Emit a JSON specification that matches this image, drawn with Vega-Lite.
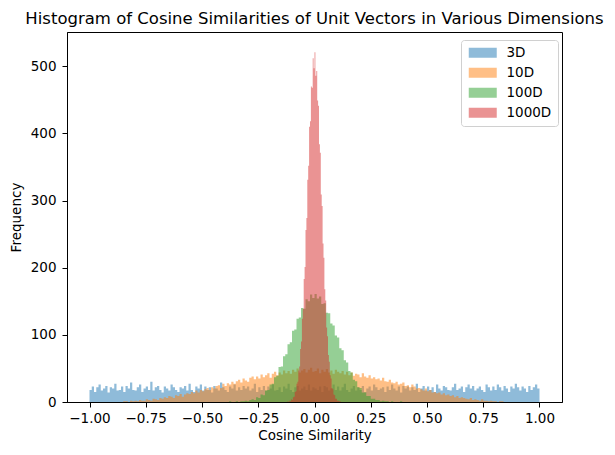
{
  "$schema": "https://vega.github.io/schema/vega-lite/v6.json",
  "width": 495,
  "height": 370,
  "autosize": {"type": "none"},
  "padding": {"left": 67, "top": 32, "right": 53, "bottom": 53},
  "title": {
    "text": "Histogram of Cosine Similarities of Unit Vectors in Various Dimensions",
    "font": "DejaVu Sans",
    "fontSize": 16.5,
    "fontWeight": "normal",
    "color": "black",
    "baseline": "bottom",
    "offset": -11
  },
  "encoding": {
    "x": {
      "field": "x",
      "type": "quantitative",
      "scale": {"domain": [-1.1, 1.1], "nice": false, "zero": false},
      "axis": {
        "title": "Cosine Similarity",
        "values": [-1, -0.75, -0.5, -0.25, 0, 0.25, 0.5, 0.75, 1],
        "format": ".2f",
        "labelPadding": 4,
        "titlePadding": 4
      }
    },
    "y": {
      "field": "y",
      "type": "quantitative",
      "scale": {"domain": [0, 551], "nice": false},
      "axis": {
        "title": "Frequency",
        "values": [0, 100, 200, 300, 400, 500],
        "labelPadding": 6,
        "titlePadding": 7
      }
    }
  },
  "layer": [
    {
      "data": {"values": [
        {"x":-1.00,"y":18},{"x":-0.99,"y":23},{"x":-0.98,"y":15},{"x":-0.97,"y":22},{"x":-0.96,"y":26},{"x":-0.95,"y":17},{"x":-0.94,"y":20},{"x":-0.93,"y":24},{"x":-0.92,"y":14},{"x":-0.91,"y":22},
        {"x":-0.90,"y":20},{"x":-0.89,"y":27},{"x":-0.88,"y":17},{"x":-0.87,"y":18},{"x":-0.86,"y":23},{"x":-0.85,"y":15},{"x":-0.84,"y":24},{"x":-0.83,"y":20},{"x":-0.82,"y":29},{"x":-0.81,"y":18},
        {"x":-0.80,"y":17},{"x":-0.79,"y":22},{"x":-0.78,"y":26},{"x":-0.77,"y":15},{"x":-0.76,"y":20},{"x":-0.75,"y":23},{"x":-0.74,"y":18},{"x":-0.73,"y":30},{"x":-0.72,"y":17},{"x":-0.71,"y":22},
        {"x":-0.70,"y":24},{"x":-0.69,"y":18},{"x":-0.68,"y":14},{"x":-0.67,"y":23},{"x":-0.66,"y":20},{"x":-0.65,"y":17},{"x":-0.64,"y":26},{"x":-0.63,"y":22},{"x":-0.62,"y":18},{"x":-0.61,"y":15},
        {"x":-0.60,"y":22},{"x":-0.59,"y":20},{"x":-0.58,"y":24},{"x":-0.57,"y":17},{"x":-0.56,"y":27},{"x":-0.55,"y":18},{"x":-0.54,"y":15},{"x":-0.53,"y":23},{"x":-0.52,"y":20},{"x":-0.51,"y":26},
        {"x":-0.50,"y":17},{"x":-0.49,"y":23},{"x":-0.48,"y":18},{"x":-0.47,"y":22},{"x":-0.46,"y":14},{"x":-0.45,"y":24},{"x":-0.44,"y":20},{"x":-0.43,"y":17},{"x":-0.42,"y":29},{"x":-0.41,"y":22},
        {"x":-0.40,"y":18},{"x":-0.39,"y":15},{"x":-0.38,"y":23},{"x":-0.37,"y":20},{"x":-0.36,"y":26},{"x":-0.35,"y":17},{"x":-0.34,"y":22},{"x":-0.33,"y":18},{"x":-0.32,"y":24},{"x":-0.31,"y":20},
        {"x":-0.30,"y":23},{"x":-0.29,"y":17},{"x":-0.28,"y":20},{"x":-0.27,"y":27},{"x":-0.26,"y":15},{"x":-0.25,"y":22},{"x":-0.24,"y":18},{"x":-0.23,"y":24},{"x":-0.22,"y":17},{"x":-0.21,"y":23},
        {"x":-0.20,"y":20},{"x":-0.19,"y":26},{"x":-0.18,"y":17},{"x":-0.17,"y":18},{"x":-0.16,"y":22},{"x":-0.15,"y":15},{"x":-0.14,"y":23},{"x":-0.13,"y":20},{"x":-0.12,"y":27},{"x":-0.11,"y":18},
        {"x":-0.10,"y":15},{"x":-0.09,"y":22},{"x":-0.08,"y":24},{"x":-0.07,"y":17},{"x":-0.06,"y":20},{"x":-0.05,"y":23},{"x":-0.04,"y":18},{"x":-0.03,"y":26},{"x":-0.02,"y":17},{"x":-0.01,"y":22},
        {"x":0.00,"y":20},{"x":0.01,"y":18},{"x":0.02,"y":23},{"x":0.03,"y":15},{"x":0.04,"y":24},{"x":0.05,"y":22},{"x":0.06,"y":17},{"x":0.07,"y":20},{"x":0.08,"y":26},{"x":0.09,"y":18},
        {"x":0.10,"y":23},{"x":0.11,"y":17},{"x":0.12,"y":22},{"x":0.13,"y":27},{"x":0.14,"y":18},{"x":0.15,"y":15},{"x":0.16,"y":20},{"x":0.17,"y":24},{"x":0.18,"y":17},{"x":0.19,"y":22},
        {"x":0.20,"y":18},{"x":0.21,"y":24},{"x":0.22,"y":15},{"x":0.23,"y":20},{"x":0.24,"y":23},{"x":0.25,"y":17},{"x":0.26,"y":26},{"x":0.27,"y":22},{"x":0.28,"y":18},{"x":0.29,"y":20},
        {"x":0.30,"y":22},{"x":0.31,"y":15},{"x":0.32,"y":23},{"x":0.33,"y":18},{"x":0.34,"y":26},{"x":0.35,"y":20},{"x":0.36,"y":17},{"x":0.37,"y":23},{"x":0.38,"y":14},{"x":0.39,"y":24},
        {"x":0.40,"y":20},{"x":0.41,"y":23},{"x":0.42,"y":17},{"x":0.43,"y":22},{"x":0.44,"y":18},{"x":0.45,"y":27},{"x":0.46,"y":15},{"x":0.47,"y":20},{"x":0.48,"y":24},{"x":0.49,"y":17},
        {"x":0.50,"y":23},{"x":0.51,"y":18},{"x":0.52,"y":22},{"x":0.53,"y":15},{"x":0.54,"y":26},{"x":0.55,"y":20},{"x":0.56,"y":17},{"x":0.57,"y":24},{"x":0.58,"y":22},{"x":0.59,"y":18},
        {"x":0.60,"y":17},{"x":0.61,"y":22},{"x":0.62,"y":27},{"x":0.63,"y":18},{"x":0.64,"y":20},{"x":0.65,"y":23},{"x":0.66,"y":15},{"x":0.67,"y":22},{"x":0.68,"y":26},{"x":0.69,"y":20},
        {"x":0.70,"y":24},{"x":0.71,"y":17},{"x":0.72,"y":20},{"x":0.73,"y":23},{"x":0.74,"y":18},{"x":0.75,"y":15},{"x":0.76,"y":26},{"x":0.77,"y":22},{"x":0.78,"y":17},{"x":0.79,"y":23},
        {"x":0.80,"y":18},{"x":0.81,"y":26},{"x":0.82,"y":22},{"x":0.83,"y":17},{"x":0.84,"y":24},{"x":0.85,"y":20},{"x":0.86,"y":15},{"x":0.87,"y":23},{"x":0.88,"y":20},{"x":0.89,"y":27},
        {"x":0.90,"y":22},{"x":0.91,"y":17},{"x":0.92,"y":23},{"x":0.93,"y":20},{"x":0.94,"y":15},{"x":0.95,"y":24},{"x":0.96,"y":18},{"x":0.97,"y":22},{"x":0.98,"y":26},{"x":0.99,"y":20},
        {"x":1.00,"y":0}
      ]},
      "mark": {"type": "area", "interpolate": "step-after", "opacity": 0.5},
      "encoding": {"color": {"datum": "3D"}}
    },
    {
      "data": {"values": [
        {"x":-0.86,"y":0},{"x":-0.85,"y":1},{"x":-0.84,"y":1},{"x":-0.83,"y":0},{"x":-0.82,"y":2},{"x":-0.81,"y":1},{"x":-0.80,"y":2},{"x":-0.79,"y":1},{"x":-0.78,"y":3},{"x":-0.77,"y":2},
        {"x":-0.76,"y":2},{"x":-0.75,"y":4},{"x":-0.74,"y":3},{"x":-0.73,"y":2},{"x":-0.72,"y":5},{"x":-0.71,"y":4},{"x":-0.70,"y":3},{"x":-0.69,"y":6},{"x":-0.68,"y":5},{"x":-0.67,"y":7},
        {"x":-0.66,"y":6},{"x":-0.65,"y":9},{"x":-0.64,"y":8},{"x":-0.63,"y":6},{"x":-0.62,"y":10},{"x":-0.61,"y":9},{"x":-0.60,"y":12},{"x":-0.59,"y":8},{"x":-0.58,"y":11},{"x":-0.57,"y":13},
        {"x":-0.56,"y":12},{"x":-0.55,"y":15},{"x":-0.54,"y":13},{"x":-0.53,"y":17},{"x":-0.52,"y":14},{"x":-0.51,"y":18},{"x":-0.50,"y":16},{"x":-0.49,"y":19},{"x":-0.48,"y":21},{"x":-0.47,"y":18},
        {"x":-0.46,"y":22},{"x":-0.45,"y":20},{"x":-0.44,"y":24},{"x":-0.43,"y":25},{"x":-0.42,"y":21},{"x":-0.41,"y":27},{"x":-0.40,"y":24},{"x":-0.39,"y":28},{"x":-0.38,"y":26},{"x":-0.37,"y":30},
        {"x":-0.36,"y":27},{"x":-0.35,"y":31},{"x":-0.34,"y":33},{"x":-0.33,"y":29},{"x":-0.32,"y":35},{"x":-0.31,"y":32},{"x":-0.30,"y":30},{"x":-0.29,"y":36},{"x":-0.28,"y":38},{"x":-0.27,"y":34},
        {"x":-0.26,"y":38},{"x":-0.25,"y":35},{"x":-0.24,"y":41},{"x":-0.23,"y":37},{"x":-0.22,"y":40},{"x":-0.21,"y":43},{"x":-0.20,"y":36},{"x":-0.19,"y":42},{"x":-0.18,"y":45},{"x":-0.17,"y":40},
        {"x":-0.16,"y":44},{"x":-0.15,"y":41},{"x":-0.14,"y":47},{"x":-0.13,"y":43},{"x":-0.12,"y":46},{"x":-0.11,"y":42},{"x":-0.10,"y":48},{"x":-0.09,"y":45},{"x":-0.08,"y":50},{"x":-0.07,"y":44},
        {"x":-0.06,"y":47},{"x":-0.05,"y":49},{"x":-0.04,"y":44},{"x":-0.03,"y":48},{"x":-0.02,"y":51},{"x":-0.01,"y":45},
        {"x":0.00,"y":46},{"x":0.01,"y":50},{"x":0.02,"y":43},{"x":0.03,"y":48},{"x":0.04,"y":45},{"x":0.05,"y":49},
        {"x":0.06,"y":44},{"x":0.07,"y":47},{"x":0.08,"y":42},{"x":0.09,"y":48},{"x":0.10,"y":45},{"x":0.11,"y":43},{"x":0.12,"y":46},{"x":0.13,"y":41},{"x":0.14,"y":45},{"x":0.15,"y":40},
        {"x":0.16,"y":44},{"x":0.17,"y":39},{"x":0.18,"y":42},{"x":0.19,"y":41},{"x":0.20,"y":37},{"x":0.21,"y":43},{"x":0.22,"y":38},{"x":0.23,"y":36},{"x":0.24,"y":40},{"x":0.25,"y":35},
        {"x":0.26,"y":37},{"x":0.27,"y":34},{"x":0.28,"y":35},{"x":0.29,"y":32},{"x":0.30,"y":36},{"x":0.31,"y":31},{"x":0.32,"y":30},{"x":0.33,"y":33},{"x":0.34,"y":29},{"x":0.35,"y":28},
        {"x":0.36,"y":30},{"x":0.37,"y":26},{"x":0.38,"y":27},{"x":0.39,"y":29},{"x":0.40,"y":24},{"x":0.41,"y":25},{"x":0.42,"y":22},{"x":0.43,"y":26},{"x":0.44,"y":23},{"x":0.45,"y":20},
        {"x":0.46,"y":21},{"x":0.47,"y":19},{"x":0.48,"y":17},{"x":0.49,"y":20},{"x":0.50,"y":16},{"x":0.51,"y":18},{"x":0.52,"y":14},{"x":0.53,"y":15},{"x":0.54,"y":13},{"x":0.55,"y":14},
        {"x":0.56,"y":11},{"x":0.57,"y":13},{"x":0.58,"y":10},{"x":0.59,"y":11},{"x":0.60,"y":9},{"x":0.61,"y":10},{"x":0.62,"y":7},{"x":0.63,"y":9},{"x":0.64,"y":6},{"x":0.65,"y":7},
        {"x":0.66,"y":6},{"x":0.67,"y":5},{"x":0.68,"y":4},{"x":0.69,"y":6},{"x":0.70,"y":3},{"x":0.71,"y":4},{"x":0.72,"y":3},{"x":0.73,"y":2},{"x":0.74,"y":4},{"x":0.75,"y":2},
        {"x":0.76,"y":2},{"x":0.77,"y":1},{"x":0.78,"y":2},{"x":0.79,"y":1},{"x":0.80,"y":1},{"x":0.81,"y":0},{"x":0.82,"y":1},{"x":0.83,"y":1},{"x":0.84,"y":0},{"x":0.85,"y":0},
        {"x":0.86,"y":0}
      ]},
      "mark": {"type": "area", "interpolate": "step-after", "opacity": 0.5},
      "encoding": {"color": {"datum": "10D"}}
    },
    {
      "data": {"values": [
        {"x":-0.40,"y":0},{"x":-0.39,"y":0},{"x":-0.38,"y":1},{"x":-0.37,"y":0},{"x":-0.36,"y":0},{"x":-0.35,"y":1},{"x":-0.34,"y":0},{"x":-0.33,"y":1},{"x":-0.32,"y":1},{"x":-0.31,"y":2},
        {"x":-0.30,"y":1},{"x":-0.29,"y":3},{"x":-0.28,"y":4},{"x":-0.27,"y":3},{"x":-0.26,"y":7},{"x":-0.25,"y":6},{"x":-0.24,"y":11},{"x":-0.23,"y":10},{"x":-0.22,"y":17},{"x":-0.21,"y":18},
        {"x":-0.20,"y":26},{"x":-0.19,"y":27},{"x":-0.18,"y":37},{"x":-0.17,"y":39},{"x":-0.16,"y":52},{"x":-0.15,"y":53},{"x":-0.14,"y":68},{"x":-0.13,"y":71},{"x":-0.12,"y":86},{"x":-0.11,"y":89},
        {"x":-0.10,"y":106},{"x":-0.09,"y":108},{"x":-0.08,"y":124},{"x":-0.07,"y":126},{"x":-0.06,"y":140},{"x":-0.05,"y":139},{"x":-0.04,"y":153},{"x":-0.03,"y":150},{"x":-0.02,"y":160},{"x":-0.01,"y":155},
        {"x":0.00,"y":161},{"x":0.01,"y":154},{"x":0.02,"y":157},{"x":0.03,"y":146},{"x":0.04,"y":147},{"x":0.05,"y":133},{"x":0.06,"y":132},{"x":0.07,"y":117},{"x":0.08,"y":114},{"x":0.09,"y":99},
        {"x":0.10,"y":96},{"x":0.11,"y":80},{"x":0.12,"y":77},{"x":0.13,"y":62},{"x":0.14,"y":59},{"x":0.15,"y":46},{"x":0.16,"y":44},{"x":0.17,"y":33},{"x":0.18,"y":31},{"x":0.19,"y":22},
        {"x":0.20,"y":21},{"x":0.21,"y":14},{"x":0.22,"y":14},{"x":0.23,"y":9},{"x":0.24,"y":9},{"x":0.25,"y":5},{"x":0.26,"y":5},{"x":0.27,"y":3},{"x":0.28,"y":3},{"x":0.29,"y":1},
        {"x":0.30,"y":2},{"x":0.31,"y":1},{"x":0.32,"y":1},{"x":0.33,"y":0},{"x":0.34,"y":1},{"x":0.35,"y":0},{"x":0.36,"y":0},{"x":0.37,"y":0},{"x":0.38,"y":1},{"x":0.39,"y":0},
        {"x":0.40,"y":0}
      ]},
      "mark": {"type": "area", "interpolate": "step-after", "opacity": 0.5},
      "encoding": {"color": {"datum": "100D"}}
    },
    {
      "data": {"values": [
        {"x":-0.124,"y":0},{"x":-0.120,"y":1},{"x":-0.116,"y":0},{"x":-0.112,"y":2},{"x":-0.108,"y":1},{"x":-0.104,"y":4},{"x":-0.100,"y":3},{"x":-0.096,"y":7},{"x":-0.092,"y":8},{"x":-0.088,"y":15},
        {"x":-0.084,"y":16},{"x":-0.080,"y":27},{"x":-0.076,"y":30},{"x":-0.072,"y":47},{"x":-0.068,"y":53},{"x":-0.064,"y":79},{"x":-0.060,"y":90},{"x":-0.056,"y":124},{"x":-0.052,"y":139},{"x":-0.048,"y":183},
        {"x":-0.044,"y":201},{"x":-0.040,"y":256},{"x":-0.036,"y":274},{"x":-0.032,"y":331},{"x":-0.028,"y":352},{"x":-0.024,"y":410},{"x":-0.020,"y":418},{"x":-0.016,"y":470},{"x":-0.012,"y":468},{"x":-0.008,"y":512},
        {"x":-0.004,"y":497},
        {"x":0.000,"y":521},{"x":0.004,"y":486},{"x":0.008,"y":493},{"x":0.012,"y":449},{"x":0.016,"y":441},{"x":0.020,"y":384},{"x":0.024,"y":371},{"x":0.028,"y":309},{"x":0.032,"y":292},{"x":0.036,"y":236},
        {"x":0.040,"y":215},{"x":0.044,"y":168},{"x":0.048,"y":151},{"x":0.052,"y":111},{"x":0.056,"y":98},{"x":0.060,"y":70},{"x":0.064,"y":60},{"x":0.068,"y":40},{"x":0.072,"y":35},{"x":0.076,"y":21},
        {"x":0.080,"y":19},{"x":0.084,"y":11},{"x":0.088,"y":10},{"x":0.092,"y":5},{"x":0.096,"y":5},{"x":0.100,"y":2},{"x":0.104,"y":2},{"x":0.108,"y":1},{"x":0.112,"y":1},{"x":0.116,"y":0},
        {"x":0.120,"y":0},{"x":0.124,"y":0}
      ]},
      "mark": {"type": "area", "interpolate": "step-after", "opacity": 0.5},
      "encoding": {"color": {"datum": "1000D"}}
    }
  ],
  "config": {
    "font": "DejaVu Sans",
    "view": {"stroke": "black", "strokeWidth": 1},
    "range": {"category": ["#1f77b4", "#ff7f0e", "#2ca02c", "#d62728"]},
    "axis": {
      "grid": false,
      "domainColor": "black",
      "tickColor": "black",
      "tickSize": 5,
      "labelFont": "DejaVu Sans",
      "labelFontSize": 13.5,
      "labelColor": "black",
      "titleFont": "DejaVu Sans",
      "titleFontSize": 13.5,
      "titleFontWeight": "normal",
      "titleColor": "black"
    },
    "legend": {
      "orient": "none",
      "legendX": 394,
      "legendY": 8,
      "title": null,
      "padding": 6,
      "rowPadding": 5,
      "labelFont": "DejaVu Sans",
      "labelFontSize": 13.5,
      "labelColor": "black",
      "labelOffset": 26,
      "symbolType": "M-1,-1H4.6V1H-1Z",
      "symbolSize": 100,
      "symbolOpacity": 0.5,
      "symbolStrokeWidth": 0,
      "fillColor": "rgba(255,255,255,0.8)",
      "strokeColor": "#d0d0d0",
      "cornerRadius": 3
    }
  }
}
